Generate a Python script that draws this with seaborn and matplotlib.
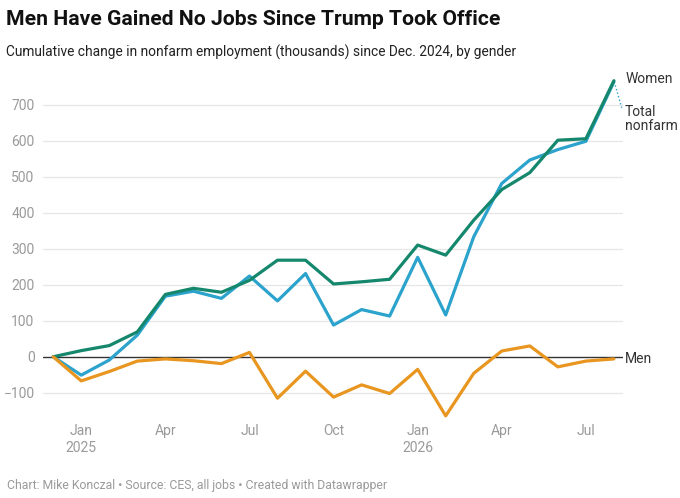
import matplotlib

matplotlib.use("Agg", force=True)

import matplotlib.pyplot as plt
import seaborn as sns
import pandas as pd

# Months since Dec 2024 (0 = Dec 2024, 20 = Aug 2026)
months = list(range(21))

# Cumulative change in nonfarm employment, thousands
women = [0, 17, 31, 69, 173, 190, 179, 212, 268, 268, 202,
         208, 215, 310, 282, 379, 464, 511, 601, 605, 766]
total = [0, -51, -9, 60, 168, 182, 162, 224, 155, 231, 88,
         131, 113, 276, 116, 333, 481, 546, 575, 598, 763]
men = [0, -67, -41, -12, -6, -11, -19, 12, -115, -40, -112,
       -78, -102, -35, -164, -46, 16, 30, -28, -12, -6]

tick_pos = [1, 4, 7, 10, 13, 16, 19]
tick_labels = ["Jan\n2025", "Apr", "Jul", "Oct", "Jan\n2026", "Apr", "Jul"]
y_ticks = [-100, 0, 100, 200, 300, 400, 500, 600, 700]

colors = {"Total nonfarm": "#2ba3cc", "Women": "#14876d", "Men": "#e8961f"}

df = pd.DataFrame({
    "month": months * 3,
    "value": total + women + men,
    "series": ["Total nonfarm"] * 21 + ["Women"] * 21 + ["Men"] * 21,
})

sns.set_style("white")
plt.rcParams["font.family"] = ["Roboto", "DejaVu Sans"]

fig = plt.figure(figsize=(6.8, 4.98), dpi=100)
ax = fig.add_axes([0.063, 0.157, 0.853, 0.691])

# gridlines
for y in y_ticks:
    if y == 0:
        continue
    ax.axhline(y, color="#e6e6e6", lw=0.9, zorder=0)
ax.axhline(0, color="#333333", lw=1.0, zorder=1)

sns.lineplot(data=df, x="month", y="value", hue="series", palette=colors,
             hue_order=["Total nonfarm", "Women", "Men"], linewidth=2.3,
             legend=False, ax=ax, zorder=3)

ax.set_xlim(-0.37, 20.32)
ax.set_ylim(-175, 780)
ax.set_xticks(tick_pos)
ax.set_xticklabels(tick_labels, linespacing=1.25)
ax.set_yticks(y_ticks)
ax.set_xlabel("")
ax.set_ylabel("")
for s in ax.spines.values():
    s.set_visible(False)
ax.tick_params(axis="both", length=0, colors="#9a9a9a", labelsize=10)
ax.tick_params(axis="x", pad=3)
ax.tick_params(axis="y", pad=6)

# direct labels
last = months[-1]
ax.text(last + 0.4, women[-1] + 5, "Women", fontsize=10, color="#333333",
        va="center", ha="left")
ax.text(last + 0.4, total[-1] - 102, "Total\nnonfarm", fontsize=10,
        color="#333333", va="center", ha="left", linespacing=1.0)
ax.plot([last + 0.05, last + 0.28], [total[-1] - 10, total[-1] - 72],
        ls=":", color="#2ba3cc", lw=1.0, clip_on=False)
ax.text(last + 0.4, men[-1], "Men", fontsize=10, color="#333333",
        va="center", ha="left")

fig.text(0.009, 0.96, "Men Have Gained No Jobs Since Trump Took Office",
         fontsize=15.2, fontweight="bold", color="#111111", va="center")
fig.text(0.009, 0.894,
         "Cumulative change in nonfarm employment (thousands) since Dec. 2024, by gender",
         fontsize=9.9, color="#222222", va="center")
fig.text(0.01, 0.026,
         "Chart: Mike Konczal \u2022 Source: CES, all jobs \u2022 Created with Datawrapper",
         fontsize=8.8, color="#9a9a9a", va="center")

fig.savefig("out.png", dpi=100)
